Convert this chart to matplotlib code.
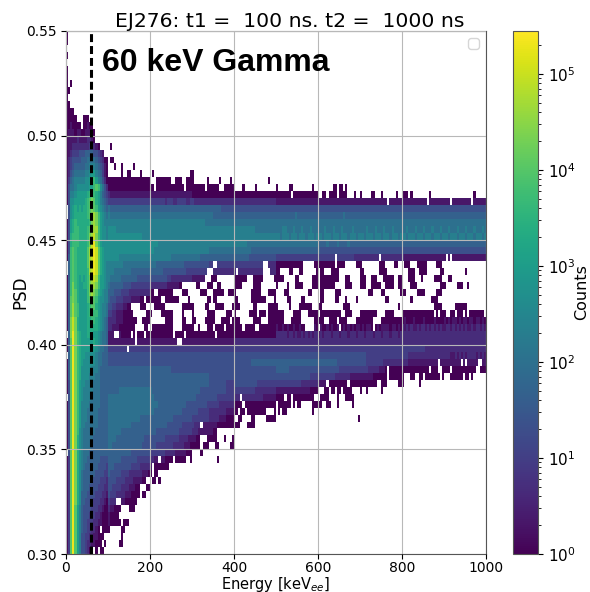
import numpy as np
import matplotlib
matplotlib.use('Agg')
import matplotlib.pyplot as plt
from matplotlib.colors import LogNorm

# bins of the histogram
energy_edges = np.linspace(0, 1000, 201)
psd_edges = np.linspace(0.55, 0.30, 76)

x_ticks = [0, 200, 400, 600, 800, 1000]
y_ticks = [0.30, 0.35, 0.40, 0.45, 0.50, 0.55]
gamma_energy = 60
count_max = 2.8e5

# one string per PSD row, top row first, one char per 5 keV bin, blocks of 100 keV
# char = counts on a log scale, 3 steps per decade, '.' = empty bin
LEVELS = '0123456789abcdefg'
psd_rows = [
    "0",
    "0",
    "",
    "0",
    "",
    "0",
    "0",
    "0.0",
    "00",
    "0",
    "00",
    "0000",
    "00000...000",
    "0010000.00100",
    "01110110011110",
    "01111211112210",
    "0112222222233210.... .0",
    "012333444555544321",
    "02344445556666543200 .00",
    "02345555566777654310 ...0..0.....0",
    "02456666677899765310 ......0..00....0.... .0.................0 0",
    "035677777889ab976420 00000000000000000000 ...0000000..000..000 0......0.....0 ....0 .................0..",
    "0466788888899bcb8642 00000000000000000000 00.0000000000000.000 000000.000000..00000 ....0.....0......... 0.....00.........0.. .......00.00.0",
    "0477899999abcba97543 21111111111111111111 11111111111111111111 00000000000000000000 00000000000000000000 0000000.000000000000 ..00.0000.0000...0.. 0....00...0......0.. 000.0........0...... ..............0",
    "048899999abcdca97654 33333333333333333333 33333332333223333223 32222222222222222222 22222222222222222222 11111111111111111111 11111111111111111111 1111111111111.111111 111111111111.1111111 111.111111111.111111",
    ".489a9a9aabcdcb98765 65555555555555555555 55555555555555555555 55555555555555444444 44444444444444444444 44444444444444444444 44444444444444444444 44444444444444444444 44444444444444444444 44444444444444444444",
    ".489aaaaaabcdedb9876 76666666666666666666 66666666666666666666 66666666665555555555 55555555555555555555 55555555565555555555 55555555555565555555 55555555555555555555 55555555555555555555 55555555555555555555",
    "049abaaaaaabdedb9877 77777777777777777777 77777777777777777777 77777766666666666666 66666666666666666666 66666666666666666666 66666666666666666666 66666666666666666666 66666666666666666666 66666666666666666666",
    "049abbaaaabcdeeb9887 88887777777777777777 77777777777777777777 77777777777777777777 77777777776666666666 66677666766676667666 66676667666766667666 66676667666766676666 66766676667666766676 66766676667666766676",
    "04abbbaaaabdefdb9887 88888888888888887777 77777777777777777777 77777777777777777777 77777777777777777777 77677767776777677767 77677767776777677767 77677767776777677767 77677767776777677767 77677767776777677767",
    "04abbbaaaabdfgdb9888 88888888888888888888 88887777777777777777 77777777777777777777 77777766666666666666 66666666666666666666 55556555565555655555 55555555555555555555 55555555555555555555 55555555555555555555",
    "04bcbaaaaacefgfca988 88888888888888888888 88777777777777777777 77777777666666666666 66666666555555555555 55555555555555555555 54444444444444444444 44444444444444444444 44444444444444444444 44444444444444444444",
    "05bcbaaaaacefgfca988 88888777777777777777 77777777776666666666 66665555555555555555 55555554444444444444 33333333333333333333 33333333.33333333222 222222222.2222222222 21111111111111111111 1.1.1111111111111111",
    ".5bcbaaaaacefgfca987 77777776666666666666 66655555555555554444 4444444433..33333333 33333333333333..2222 0000000000000.....00 00000000.0000.....00 0........000....00.. .000...00000....000.",
    ".5bcbaaaaabefgfca987 77766666666555555555 55555544444444444333 3333333...2222222222 2.222222222222...222 00....00...00......0 .00...0000.......... 00.......0000....... ...000..0000......00 ..........0",
    "05bcba9a9abdefeb9987 76666655555555444444 44444444332222222222 111111...000........ 000000...00000.....0 0000.....00......000 .000000000...00..... 000..000...00000..00 ...000...0.....0000. ..00",
    "05bdba99aabdeedb9987 65555554444333333333 222222221111110..... ..00...000..00...... 0000.....0000....... 0....0...0000....000 .0000000.....000.... 000..00000..0000..00 ....000...........00 0.....000..0",
    "05bdca9999bdedca9877 55544433332222222222 00..0000000....000.. ....000...00000..000 0.......00000...0000 ....00 .........00....00... ..000.............00 ....00.......000.... .0000.....000",
    "05cdca9999bcdcb98877 54443332222111100.00 00000..0000000....0. .......00.00........ 00......0000000....0 .....00.....00 .......00.....00...0 ....0.............00 ..........0 .........000",
    "05cecb9999abcca98776 44332221100....000.. ..00000........00000 0.....00...0000....0 000......00.....0000 0.....0....000000... 00..........000..... ..................0. ...............0000. .....000000",
    "05cecb9999abcbb98776 332211100000......00 0....000000....0.... 0......0000.....000. 0......0000.000.0000 0000....0000...00000 .0000000000..000.... 00000000....0000.... 000000000000000.0.00 0..00.000.0.0000000.",
    "05dfda9999aabba98765 22221110000000..0000 .......0000....00... 00....00000...0000.0 000......0000...0000 0000...00000......00 000..0000.0000....00 000000....0000000000 01000100001000010000 10101101011011011010",
    "05dfda9999aaaaa98765 2211100000000....00. .0000000000....00000 0..0...000.0000.0000 0000.00000..00000000 10010100100100....10 .100101001.010101011 010110.0101111011010 21212112122121212121 12212121212112122121",
    ".5dgdba999aaa9987665 111..100000.0.000.00 00000000000.0000.000 00000000000.00000000 00000000000000000000 22222122121121212122 12122212221222122212 22122212221222122212 22222222222222222222 22222222222222222222",
    "05cgdba999999a987665 1111111111111.111111 1111111111111..11111 11111111111111111111 22222222222222222222 22222222222222222222 22222222222222222222 22222222222222222222 22222222222222222222 22222222222222222222",
    "05cgdba9999999876655 333333333.3333333333 33333333333333333333 33333333333333333333 33333333333333333333 33333333333333333333 33333333333333333333 33333333333333333333 33333333333222222222 22222222222222222222",
    ".5cgdba9988888766555 44444444444444444444 44444444444444444444 44444444444444444444 44444444444444444444 44444444444444444444 44444444444444444444 44433333333333333333 33322222222222222222 22211212121222212121",
    "05cgdba9888888766555 44444444444444444444 44444444444444444444 44444444444444444444 44444444555555555555 55555555555555555555 55555555544444444444 44433333333222222222 22211111111111111.11 11111111.1.11111..11",
    "05cgdba8888877765555 55555555555555555555 55555555554444444444 44444444444444444444 44444444444444444444 55555544444444444444 44444444443333333333 3333222221110.000000 0000000000000.000..0 000.00000000000..000",
    "05cgdba8888777665555 55555555555555555555 55555555555555555555 55555555444444444444 44444444444444444444 44444444444444443333 33333333222222211111 1111110000000.000000 0...00..00.0000000.0 ...000000.00.0",
    "04cgdb98877776665555 55555555555555555555 55555555555555555555 55555555444444443333 44444444444333333333 33333333333322222222 1111.000000000.00000 00000000..000.....00 0.......0",
    "04cgdb98777776665555 55555666666666666666 65555555555555555555 55554444444444443333 33333333332222222222 11111111111111110000 ...00.00.00.0000.... 0..0 ......0",
    ".4cgdb98777766665555 66666666666666666666 66555555555555555555 55444444444433333333 222.2222222222111111 0000.00.0000000000.. .0000....0...0000",
    "04cgdb97777666665555 66666666666666666666 66665555555555555444 44444443333332222222 0000.000000000000000 .000000.0.00.....000 00..00...0......0",
    "04cgdb97776666655555 66666666666666666666 66555555555555544444 44433333222222221111 00.00.000000000....0 .0.00............0",
    "04cgdb97776666655555 66666666666666655555 55555555555444444444 33333333222221110000 ..00....00.....00000 .................... ...................0",
    "04cgdb97766666655555 66666666666555555555 55555555444444433333 3222.111111100000000 000...0000",
    "04cgdb87666666555555 66666655555555555555 55544444444444333333 222111111100",
    "04cgda87666665555555 66665555555555555444 44444443333333222211 1100...00000...0...0",
    "04cgda87666655555555 66555555555555554444 44433333333222221110 0000.000...00.....00",
    ".4cgda87666555555555 55555555555444444444 33333332222211111000 ....0",
    "03cgda87665555554444 55555544444444333333 2211.110000.00000..0 ............0",
    "03cgda87655555544443 55544444444333322222 1.0000000",
    "03cgda86555555444433 54444433332222221110 0.00",
    "03cgda86555544443332 444433332222111100.. .00.0",
    "03cgda86555444433322 443333222211100...00",
    "03cgda85554444333221 433322221110000.00",
    "03cgda85544443332210 3222..11000000",
    "03cgc975444433322100 211000....000",
    "03cgc975444333221000 10000",
    "03cgc975443332211000 100000.000",
    "03cgc97544332210.000 0.....00",
    "03cgc9744332211000.. ......0",
    "03cgc974432211000.0. .....00",
    "03cgc97443200.0.00",
]


def rows_to_counts(rows):
    counts = np.full((len(rows), len(energy_edges) - 1), np.nan)
    for i, row in enumerate(rows):
        cells = row.replace(' ', '')
        for j, ch in enumerate(cells[:counts.shape[1]]):
            if ch != '.':
                counts[i, j] = 10 ** (LEVELS.index(ch) / 3)
    return counts


counts = rows_to_counts(psd_rows)

fig = plt.figure(figsize=(5.9, 5.92), dpi=100)
ax = fig.add_axes([66 / 590, 1 - 554 / 592, 420 / 590, 523 / 592])
cax = fig.add_axes([513 / 590, 1 - 554 / 592, 25 / 590, 523 / 592])

mesh = ax.pcolormesh(energy_edges, psd_edges, np.ma.masked_invalid(counts),
                     cmap='viridis', norm=LogNorm(vmin=1, vmax=count_max))
ax.axvline(gamma_energy, color='k', ls=(0, (2.6, 1.3)), lw=2.2, zorder=5)
ax.grid(True, color='#b8b8b8', lw=0.8)
ax.set_axisbelow(False)

ax.set_xlim(0, 1000)
ax.set_ylim(0.30, 0.55)
ax.set_xticks(x_ticks)
ax.set_yticks(y_ticks)
ax.set_yticklabels(['%.2f' % v for v in y_ticks])
ax.tick_params(labelsize=10)
ax.tick_params(axis='x', pad=1.5)
ax.set_xlabel(r'Energy [keV$_{ee}$]', fontsize=10.5, va='top')
ax.xaxis.set_label_coords(0.5, -0.04)
ax.set_ylabel('PSD', fontsize=12)
ax.yaxis.set_label_coords(-0.088, 0.5)
ax.set_title('EJ276: t1 =  100 ns. t2 =  1000 ns', fontsize=14.7, pad=2.5, x=0.532)
ax.text(0.085, 0.938, '60 keV Gamma', transform=ax.transAxes, fontsize=23,
        fontweight='bold', family='Liberation Sans', va='center', ha='left')

# empty legend box, the original had no labelled handles
ax.legend(handles=[], loc='upper right')

for s in ax.spines.values():
    s.set_color('#555555')

cb = fig.colorbar(mesh, cax=cax)
cb.ax.tick_params(labelsize=11)
cb.set_label('Counts', fontsize=11.5)
cb.ax.yaxis.set_label_coords(2.46, 0.5)
cb.outline.set_edgecolor('#555555')

fig.savefig('out.png', dpi=100)
